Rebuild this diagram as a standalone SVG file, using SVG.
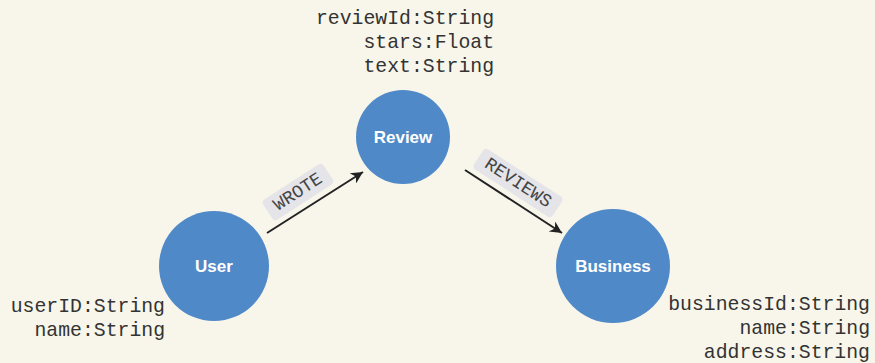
<svg xmlns="http://www.w3.org/2000/svg" width="875" height="363" viewBox="0 0 875 363">
<defs>
<style>
.bg{fill:#f8f6ea}
.node{fill:#5089c8}
.nl{font-family:"Liberation Sans",Arial,sans-serif;font-weight:bold;font-size:17px;fill:#fff;text-anchor:middle;dominant-baseline:central}
.attr{font-family:"Liberation Mono","Courier New",monospace;font-size:19.8px;fill:#333;text-anchor:end}
.lbox{fill:#e5e5e9}
.ltxt{font-family:"Liberation Mono","Courier New",monospace;font-size:18px;fill:#444;text-anchor:middle;dominant-baseline:central}
</style>
<marker id="arr2" viewBox="0 0 10 10" refX="10" refY="5" markerWidth="16" markerHeight="12" markerUnits="userSpaceOnUse" orient="auto"><path d="M0,0 L10,5 L0,10 L3,5 Z" fill="#222"/></marker>
</defs>
<rect class="bg" x="0" y="0" width="875" height="363"/>
<g id="connectors">
<g id="e-wrote">
<line x1="267" y1="233" x2="363" y2="172" stroke="#222" stroke-width="2" marker-end="url(#arr2)"/>
<g transform="translate(298,192) rotate(-33)">
<rect class="lbox" x="-36" y="-12" width="72" height="24" rx="4"/>
<text class="ltxt" x="0" y="0">WROTE</text>
</g>
</g>
<g id="e-reviews">
<line x1="465" y1="170" x2="562" y2="233" stroke="#222" stroke-width="2" marker-end="url(#arr2)"/>
<g transform="translate(518,183) rotate(33)">
<rect class="lbox" x="-47" y="-12" width="94" height="24" rx="4"/>
<text class="ltxt" x="0" y="0">REVIEWS</text>
</g>
</g>
</g>
<g id="review">
<circle class="node" cx="403" cy="137" r="47"/>
<text class="nl" x="403" y="137">Review</text>
<text class="attr" x="494" y="24">reviewId:String</text>
<text class="attr" x="494" y="48">stars:Float</text>
<text class="attr" x="494" y="72">text:String</text>
</g>
<g id="user">
<circle class="node" cx="214" cy="266" r="55"/>
<text class="nl" x="214" y="266">User</text>
<text class="attr" x="165" y="312">userID:String</text>
<text class="attr" x="165" y="336">name:String</text>
</g>
<g id="business">
<circle class="node" cx="613" cy="266" r="57"/>
<text class="nl" x="613" y="266">Business</text>
<text class="attr" x="870" y="310">businessId:String</text>
<text class="attr" x="870" y="334">name:String</text>
<text class="attr" x="870" y="358">address:String</text>
</g>
</svg>
